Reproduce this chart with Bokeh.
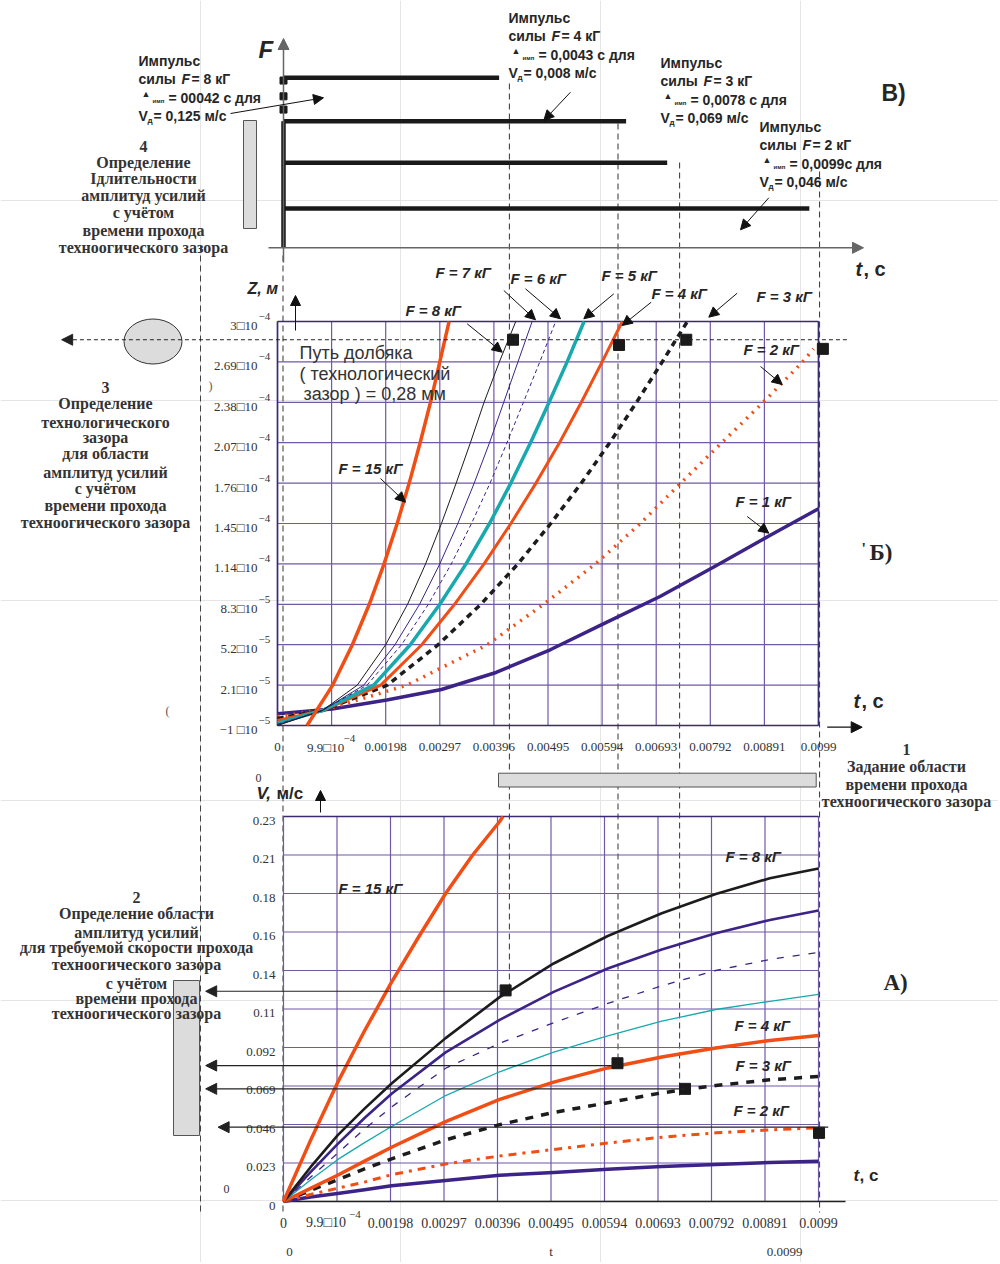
from bokeh.plotting import figure
from bokeh.models import Range1d, Arrow, NormalHead
from bokeh.core.properties import value
from bokeh.embed import file_html
from bokeh.resources import INLINE

# ---------------- data ----------------
t_ticks = [0, 0.00099, 0.00198, 0.00297, 0.00396, 0.00495, 0.00594, 0.00693, 0.00792, 0.00891, 0.0099]
t_tick_labels = ["0", "9.9\u25a110", "0.00198", "0.00297", "0.00396", "0.00495",
                 "0.00594", "0.00693", "0.00792", "0.00891", "0.0099"]

z_ticks = [-1e-5, 2.1e-5, 5.2e-5, 8.3e-5, 1.14e-4, 1.45e-4, 1.76e-4, 2.07e-4, 2.38e-4, 2.69e-4, 3.0e-4]
z_tick_mant = ["\u22121 \u25a110", "2.1\u25a110", "5.2\u25a110", "8.3\u25a110", "1.14\u25a110", "1.45\u25a110",
               "1.76\u25a110", "2.07\u25a110", "2.38\u25a110", "2.69\u25a110", "3\u25a110"]
z_tick_exp = ["\u22125", "\u22125", "\u22125", "\u22125", "\u22124", "\u22124",
              "\u22124", "\u22124", "\u22124", "\u22124", "\u22124"]

v_ticks = [0, 0.023, 0.046, 0.069, 0.092, 0.115, 0.138, 0.161, 0.184, 0.207, 0.23]
v_tick_labels = ["0", "0.023", "0.046", "0.069", "0.092", "0.11", "0.14", "0.16", "0.18", "0.21", "0.23"]

# displacement Z(t), m
z_lv = [2.1e-5, 5.2e-5, 8.3e-5, 1.14e-4, 1.45e-4, 1.76e-4, 2.07e-4, 2.38e-4, 2.69e-4, 3.0e-4]
z15_t = [0.00054, 0.00101, 0.00137, 0.00168, 0.00195, 0.00219, 0.00241, 0.00261, 0.0028, 0.00297, 0.00314]
z15_z = [-1e-5] + z_lv
z8_t = [0, 0.00082, 0.00146, 0.00198, 0.00238, 0.00271, 0.003, 0.00327, 0.00353, 0.00378, 0.00406, 0.00436]
z8_z = [-1.0e-5, 1.5e-6] + z_lv
z7_t = [0, 0.00082, 0.00158, 0.00215, 0.0026, 0.00297, 0.0033, 0.0036, 0.00388, 0.00414, 0.0044, 0.00466]
z7_z = [-9.5e-6, 1.5e-6] + z_lv
z6_t = [0, 0.00082, 0.00164, 0.00227, 0.00276, 0.00318, 0.00355, 0.00389, 0.0042, 0.0045, 0.0048, 0.00509]
z6_z = [-9.0e-6, 1.5e-6] + z_lv
z5_t = [0, 0.00082, 0.00176, 0.00243, 0.00297, 0.00345, 0.00388, 0.00427, 0.00463, 0.00497, 0.0053, 0.00561]
z5_z = [-8.2e-6, 1.5e-6] + z_lv
z4_t = [0, 0.00082, 0.00189, 0.00264, 0.00324, 0.00378, 0.00427, 0.00473, 0.00516, 0.00556, 0.00594, 0.00631]
z4_z = [-6.2e-6, 1.5e-6] + z_lv
z3_t = [0, 0.00082, 0.00201, 0.00294, 0.00372, 0.0044, 0.005, 0.00556, 0.00608, 0.00657, 0.00704, 0.0075]
z3_z = [-4.6e-6, 1.5e-6] + z_lv
z2_t = [0, 0.00082, 0.00164, 0.00237, 0.00384, 0.00487, 0.00582, 0.00664, 0.00738, 0.00813, 0.00889, 0.00961, 0.00981]
z2_z = [-3.1e-6, 1.5e-6, 1.17e-5, 2.1e-5, 5.2e-5, 8.3e-5, 1.14e-4, 1.45e-4, 1.76e-4, 2.07e-4, 2.38e-4, 2.69e-4, 2.79e-4]
z1_t = [0, 0.001, 0.002, 0.003, 0.004, 0.005, 0.006, 0.007, 0.008, 0.009, 0.0099]
z1_z = [-1.0e-6, 2.6e-6, 9.6e-6, 1.76e-5, 3.07e-5, 4.83e-5, 6.87e-5, 8.9e-5, 1.12e-4, 1.356e-4, 1.563e-4]

# velocity V(t), m/s
v_t = [0, 0.0005, 0.001, 0.0015, 0.002, 0.003, 0.004, 0.005, 0.006, 0.007, 0.008, 0.009, 0.0099]
v1 = [0, 0.0027, 0.0048, 0.007, 0.0094, 0.0125, 0.0157, 0.0173, 0.0192, 0.0209, 0.0221, 0.0233, 0.0241]
v2 = [0, 0.0042, 0.0079, 0.0116, 0.016, 0.0224, 0.0272, 0.0311, 0.0349, 0.0384, 0.041, 0.0428, 0.044]
v3 = [0, 0.0066, 0.013, 0.0195, 0.0255, 0.0368, 0.0459, 0.0532, 0.059, 0.0649, 0.0693, 0.0727, 0.0747]
v4 = [0, 0.0078, 0.0157, 0.0241, 0.0324, 0.0477, 0.061, 0.0713, 0.0798, 0.0863, 0.0917, 0.0962, 0.0992]
v5 = [0, 0.0129, 0.025, 0.0352, 0.0448, 0.0633, 0.0775, 0.0893, 0.0989, 0.1077, 0.1147, 0.1196, 0.1237]
v6 = [0, 0.0145, 0.0288, 0.0433, 0.0565, 0.0796, 0.0945, 0.1068, 0.1183, 0.1289, 0.138, 0.1446, 0.1488]
v7 = [0, 0.0175, 0.0343, 0.0499, 0.0644, 0.0891, 0.1085, 0.1252, 0.1392, 0.1505, 0.1603, 0.1682, 0.1738]
v8 = [0, 0.0205, 0.0395, 0.0555, 0.0705, 0.0976, 0.1221, 0.1422, 0.1586, 0.1722, 0.1837, 0.1931, 0.1989]
v15_t = [0, 0.0005, 0.001, 0.0015, 0.002, 0.0025, 0.003, 0.0035, 0.004, 0.00406]
v15 = [0, 0.0365, 0.071, 0.102, 0.131, 0.158, 0.184, 0.207, 0.227, 0.23]

# force impulses (panel B)
imp_force = ["8", "4", "3", "2"]
imp_level = [4.1, 3.05, 2.05, 0.95]
imp_end_t = [0.00399, 0.00634, 0.0071, 0.00973]
imp_tau = ["00042 \u0441 \u0434\u043b\u044f", "0,0043 \u0441 \u0434\u043b\u044f", "0,0078 \u0441 \u0434\u043b\u044f", "0,0099\u0441 \u0434\u043b\u044f"]
imp_vd = ["0,125 \u043c/\u0441", "0,008 \u043c/\u0441", "0,069 \u043c/\u0441", "0,046 \u043c/\u0441"]
f_marks = [4.03, 3.65, 3.33]

# gap passage markers
gap_z = 2.86e-4
zmark_t = [0.00431, 0.00625, 0.00748, 0.00998]
zmark_z = [2.86e-4, 2.82e-4, 2.86e-4, 2.79e-4]
vmark_t = [0.00411, 0.00618, 0.00743, 0.00991]
vmark_v = [0.1261, 0.0826, 0.0673, 0.041]
v_levels = [0.1256, 0.0812, 0.0673, 0.0444]
dash_t = [0.00418, 0.00619, 0.00733, 0.00992]

# ---------------- figure ----------------
ORANGE = "#f04e14"
PURPLE = "#3c2387"
CYAN = "#17a9ad"
BLACK = "#1c1c1c"
GRID = "#7159a8"
TXT = "#262626"
W, H = 998, 1262


def lin(p0, v0, p1, v1, a, b):
    k = (v1 - v0) / (p1 - p0)
    return Range1d(start=v0 + (a - p0) * k, end=v0 + (b - p0) * k)


p = figure(width=W, height=H, x_range=Range1d(0, W), y_range=Range1d(H, 0),
           output_backend="svg", toolbar_location=None, x_axis_location=None, y_axis_location=None,
           min_border=0, outline_line_color=None)
p.extra_x_ranges = {"tz": lin(277, 0, 818, 0.0099, 0, W),
                    "tv": lin(283, 0, 818, 0.0099, 0, W)}
p.extra_y_ranges = {"z": lin(725, -1e-5, 321, 3e-4, H, 0),
                    "v": lin(1201, 0, 816, 0.23, H, 0),
                    "f": lin(247.3, 0, 205.8, 1, H, 0)}


def txt(x, y, s, size=13, font="Liberation Sans", style="bold", align="left", color=TXT,
        xr="default", yr="default", xo=0, yo=0):
    p.text(x=[x], y=[y], text=[s], text_font=value(font), text_font_size=f"{size}px",
           text_font_style=style, text_align=align, text_baseline="middle", text_color=color,
           x_offset=xo, y_offset=yo, x_range_name=xr, y_range_name=yr)


def arr(x0, y0, x1, y1, size=9, width=1.0, dash="solid", color="#111111", xr="default", yr="default"):
    p.add_layout(Arrow(end=NormalHead(size=size, fill_color=color, line_color=color, line_width=1),
                       x_start=x0, y_start=y0, x_end=x1, y_end=y1, line_width=width,
                       line_color=color, line_dash=dash, x_range_name=xr, y_range_name=yr))


def line(xs, ys, xr, yr, color, width, dash="solid", cap="butt"):
    p.line(xs, ys, x_range_name=xr, y_range_name=yr, line_color=color, line_width=width,
           line_dash=dash, line_cap=cap, line_join="round")


# ---------- long dashed guide lines ----------
p.segment(x0=[200], y0=[245], x1=[200], y1=[1215], line_color="#444444", line_dash="6 4", line_width=1)
p.segment(x0=[282.5], y0=[255], x1=[282.5], y1=[1212], line_color="#555555", line_dash="6 4", line_width=1.2)
p.segment(x0=dash_t, y0=[83, 123, 162, 171], x1=dash_t, y1=[993, 1063, 1095, 1212],
          x_range_name="tv", line_color="#333333", line_dash="6 4", line_width=1)

# ---------- panel B (force impulses) ----------
arr(268, 247.3, 863, 247.3, size=11, width=1.5, color="#666666")
arr(283, 262, 283, 38, size=11, width=1.5, color="#666666")
p.segment(x0=[0] * 4, y0=imp_level, x1=imp_end_t, y1=imp_level, x_range_name="tv", y_range_name="f",
          line_color="#1a1a1a", line_width=4.5)
p.segment(x0=[0], y0=[0], x1=[0], y1=[imp_level[1]], x_range_name="tv", y_range_name="f",
          line_color="#1a1a1a", line_width=4.5)
p.scatter(x=[0] * 3, y=f_marks, marker="square", size=7, color="#1a1a1a", x_range_name="tv", y_range_name="f")
p.quad(left=[243], right=[256], top=[120], bottom=[228], fill_color="#dcdcdc", line_color="#555555")
txt(258, 49, "F", size=24, style="bold italic")
txt(855, 268, "t", size=20, style="bold italic")
txt(863, 268, ", \u0441", size=20, style="bold")
txt(881, 92, "\u0412)", size=23, style="bold")

imp_x0 = [138, 508, 660, 759]
imp_y0 = [60, 17, 62, 126]
for i in range(4):
    x0, y0 = imp_x0[i], imp_y0[i]
    txt(x0, y0, "\u0418\u043c\u043f\u0443\u043b\u044c\u0441", size=14)
    txt(x0, y0 + 18, "\u0441\u0438\u043b\u044b", size=14)
    txt(x0 + 43, y0 + 18, "F", size=14, style="bold italic")
    txt(x0 + 53, y0 + 18, "= " + imp_force[i] + " \u043a\u0413", size=14)
    txt(x0 + 3, y0 + 33, "\u25b2", size=9)
    txt(x0 + 14, y0 + 40, "\u0438\u043c\u043f", size=6)
    txt(x0 + 30, y0 + 37, "= " + imp_tau[i], size=14)
    txt(x0, y0 + 55, "V", size=14)
    txt(x0 + 9, y0 + 60, "\u0434", size=8)
    txt(x0 + 15, y0 + 55, "= " + imp_vd[i], size=14)
arr(230, 113, 323, 97.3, size=10, width=1)
arr(570, 91.7, 543.3, 120, size=10, width=1)
arr(768.3, 197.3, 740, 229.3, size=10, width=1)

blk4 = ["4", "\u041e\u043f\u0440\u0435\u0434\u0435\u043b\u0435\u043d\u0438\u0435",
        "I\u0434\u043b\u0438\u0442\u0435\u043b\u044c\u043d\u043e\u0441\u0442\u0438",
        "\u0430\u043c\u043f\u043b\u0438\u0442\u0443\u0434 \u0443\u0441\u0438\u043b\u0438\u0439",
        "\u0441 \u0443\u0447\u0451\u0442\u043e\u043c",
        "\u0432\u0440\u0435\u043c\u0435\u043d\u0438 \u043f\u0440\u043e\u0445\u043e\u0434\u0430",
        "\u0442\u0435\u0445\u043d\u043e\u043e\u0433\u0438\u0447\u0435\u0441\u043a\u043e\u0433\u043e \u0437\u0430\u0437\u043e\u0440\u0430"]
for s, y in zip(blk4, [145.7, 161.7, 178.3, 195, 212.3, 230, 246.7]):
    txt(143, y, s, size=16, font="Liberation Serif", align="center", color="#333333")

# ---------- panel Б (displacement) ----------
n = len(t_ticks)
p.segment(x0=t_ticks, y0=[z_ticks[0]] * n, x1=t_ticks, y1=[z_ticks[-1]] * n, x_range_name="tz",
          y_range_name="z", line_color=GRID, line_width=1.2)
p.segment(x0=[t_ticks[0]] * n, y0=z_ticks, x1=[t_ticks[-1]] * n, y1=z_ticks, x_range_name="tz",
          y_range_name="z", line_color=GRID, line_width=1.2)
p.segment(x0=[t_ticks[0], t_ticks[0], t_ticks[0], t_ticks[-1]],
          y0=[z_ticks[0], z_ticks[-1], z_ticks[0], z_ticks[0]],
          x1=[t_ticks[-1], t_ticks[-1], t_ticks[0], t_ticks[-1]],
          y1=[z_ticks[0], z_ticks[-1], z_ticks[-1], z_ticks[-1]],
          x_range_name="tz", y_range_name="z", line_color="#3a2a70", line_width=1.6)

line(z1_t, z1_z, "tz", "z", PURPLE, 3.5)
line(z2_t, z2_z, "tz", "z", ORANGE, 3.5, dash="2 6")
line(z3_t, z3_z, "tz", "z", BLACK, 3.5, dash="6 5")
line(z4_t, z4_z, "tz", "z", ORANGE, 3.0)
line(z5_t, z5_z, "tz", "z", CYAN, 3.5)
line(z6_t, z6_z, "tz", "z", PURPLE, 1.0, dash="4 3")
line(z7_t, z7_z, "tz", "z", PURPLE, 1.0)
line(z8_t, z8_z, "tz", "z", BLACK, 1.0)
line(z15_t, z15_z, "tz", "z", ORANGE, 3.5)

# gap line and markers
arr(0.01042, gap_z, -0.00395, gap_z, size=11, width=1, dash="4 3", color="#222222", xr="tz", yr="z")
p.scatter(x=zmark_t, y=zmark_z, marker="square", size=11, color="#1a1a1a", x_range_name="tz", y_range_name="z")
p.ellipse(x=[152.5], y=[341], width=58, height=45, width_units="screen", height_units="screen",
          fill_color="#dcdcdc", line_color="#333333")

for tk, mant, ex in zip(z_ticks, z_tick_mant, z_tick_exp):
    txt(257, tk, mant, size=13, font="Liberation Serif", style="normal", align="right", color="#333333",
        yr="z", yo=4)
    txt(258, tk, ex, size=11, font="Liberation Serif", style="normal", align="left", color="#333333",
        yr="z", yo=-5)
for i, (tk, lab) in enumerate(zip(t_ticks, t_tick_labels)):
    xo = -6 if i == 1 else 0
    txt(tk, 746.7, lab, size=13, font="Liberation Serif", style="normal", align="center", color="#333333",
        xr="tz", xo=xo)
txt(t_ticks[1], 746.7, "\u22124", size=11, font="Liberation Serif", style="normal", color="#333333",
    xr="tz", xo=12, yo=-9)

txt(247, 288, "Z, \u043c", size=16, style="bold italic")
arr(295, 330, 295, 295, size=10, width=1)
txt(853, 700, "t", size=20, style="bold italic")
txt(861, 700, ", \u0441", size=20, style="bold")
arr(826.7, 726.7, 861.7, 726.7, size=11, width=1.2)
txt(861, 548, "'", size=16, font="Liberation Serif")
txt(869, 552, "\u0411)", size=23, font="Liberation Serif")

txt(299, 352, "\u041f\u0443\u0442\u044c \u0434\u043e\u043b\u0431\u044f\u043a\u0430", size=18, style="normal",
    color="#333333")
txt(299, 373, "( \u0442\u0435\u0445\u043d\u043e\u043b\u043e\u0433\u0438\u0447\u0435\u0441\u043a\u0438\u0439",
    size=18, style="normal", color="#333333")
txt(303, 393, "\u0437\u0430\u0437\u043e\u0440 ) = 0,28 \u043c\u043c", size=18, style="normal", color="#333333")

zl = [("F = 7 \u043a\u0413", 435, 272), ("F = 6 \u043a\u0413", 510, 278), ("F = 5 \u043a\u0413", 601, 275),
      ("F = 4 \u043a\u0413", 651, 293), ("F = 3 \u043a\u0413", 756, 296), ("F = 8 \u043a\u0413", 405, 310),
      ("F = 15 \u043a\u0413", 338, 468), ("F = 2 \u043a\u0413", 743, 349), ("F = 1 \u043a\u0413", 735, 501)]
for s, x, y in zl:
    txt(x, y, s, size=15, style="bold italic")
for a in [(466.7, 323.3, 501.7, 351.7), (503.3, 290, 535, 319.3), (525, 288.3, 560, 318.3),
          (613.3, 293.3, 583.3, 318.3), (650.7, 301.7, 621.7, 325), (736.7, 292.7, 708.3, 316.7),
          (760, 366, 781.7, 384), (380, 478, 405, 501.7), (746.7, 516, 768.3, 532.7)]:
    arr(*a, size=10, width=1)

blk3 = ["3", "\u041e\u043f\u0440\u0435\u0434\u0435\u043b\u0435\u043d\u0438\u0435",
        "\u0442\u0435\u0445\u043d\u043e\u043b\u043e\u0433\u0438\u0447\u0435\u0441\u043a\u043e\u0433\u043e",
        "\u0437\u0430\u0437\u043e\u0440\u0430", "\u0434\u043b\u044f \u043e\u0431\u043b\u0430\u0441\u0442\u0438",
        "\u0430\u043c\u043f\u043b\u0438\u0442\u0443\u0434 \u0443\u0441\u0438\u043b\u0438\u0439",
        "\u0441 \u0443\u0447\u0451\u0442\u043e\u043c",
        "\u0432\u0440\u0435\u043c\u0435\u043d\u0438 \u043f\u0440\u043e\u0445\u043e\u0434\u0430",
        "\u0442\u0435\u0445\u043d\u043e\u043e\u0433\u0438\u0447\u0435\u0441\u043a\u043e\u0433\u043e \u0437\u0430\u0437\u043e\u0440\u0430"]
for s, y in zip(blk3, [387.3, 403.3, 421.7, 436.7, 453.3, 471.7, 488.3, 505, 521.7]):
    txt(105, y, s, size=16, font="Liberation Serif", align="center", color="#333333")
txt(208, 385, ")", size=12, font="Liberation Serif", style="normal", color="#555555")
txt(165, 710, "(", size=12, font="Liberation Serif", style="normal", color="#555555")

# ---------- zone 1 bar ----------
p.quad(left=[498], right=[815.7], top=[772.7], bottom=[786.5], fill_color="#dcdcdc", line_color="#555555")
blk1 = ["1", "\u0417\u0430\u0434\u0430\u043d\u0438\u0435 \u043e\u0431\u043b\u0430\u0441\u0442\u0438",
        "\u0432\u0440\u0435\u043c\u0435\u043d\u0438 \u043f\u0440\u043e\u0445\u043e\u0434\u0430",
        "\u0442\u0435\u0445\u043d\u043e\u043e\u0433\u0438\u0447\u0435\u0441\u043a\u043e\u0433\u043e \u0437\u0430\u0437\u043e\u0440\u0430"]
for s, y in zip(blk1, [749.3, 766, 784, 800.7]):
    txt(906, y, s, size=16, font="Liberation Serif", align="center", color="#333333")
txt(258, 777, "0", size=12, font="Liberation Serif", style="normal", align="center", color="#333333")

# ---------- panel А (velocity) ----------
p.segment(x0=t_ticks, y0=[v_ticks[0]] * n, x1=t_ticks, y1=[v_ticks[-1]] * n, x_range_name="tv",
          y_range_name="v", line_color=GRID, line_width=1.2)
p.segment(x0=[t_ticks[0]] * n, y0=v_ticks, x1=[t_ticks[-1]] * n, y1=v_ticks, x_range_name="tv",
          y_range_name="v", line_color=GRID, line_width=1.2)
p.segment(x0=[t_ticks[0]], y0=[v_ticks[-1]], x1=[t_ticks[-1]], y1=[v_ticks[-1]], x_range_name="tv",
          y_range_name="v", line_color="#3a2a70", line_width=1.6)
p.segment(x0=[t_ticks[0]], y0=[v_ticks[0]], x1=[0.0104], y1=[v_ticks[0]], x_range_name="tv",
          y_range_name="v", line_color="#222222", line_width=1.4)

line(v_t, v1, "tv", "v", PURPLE, 3.5)
line(v_t, v2, "tv", "v", ORANGE, 3.0, dash="8 6 3 6")
line(v_t, v3, "tv", "v", BLACK, 3.5, dash="8 8")
line(v_t, v4, "tv", "v", ORANGE, 3.5)
line(v_t, v5, "tv", "v", CYAN, 1.3)
line(v_t, v6, "tv", "v", PURPLE, 1.3, dash="7 9")
line(v_t, v7, "tv", "v", PURPLE, 2.6)
line(v_t, v8, "tv", "v", BLACK, 2.6)
line(v15_t, v15, "tv", "v", ORANGE, 3.5)

# horizontal read-off lines to the left
v_left = -0.00144
for i in range(4):
    x_end = v_left if i < 3 else -0.00121
    x_start = vmark_t[i] if i < 3 else 0.01008
    arr(x_start, v_levels[i], x_end, v_levels[i], size=11, width=1.2, color="#222222", xr="tv", yr="v")
p.scatter(x=vmark_t, y=vmark_v, marker="square", size=11, color="#1a1a1a", x_range_name="tv", y_range_name="v")
p.quad(left=[173], right=[199], top=[980], bottom=[1135], fill_color="#dcdcdc", line_color="#555555")

for tk, lab in zip(v_ticks, v_tick_labels):
    txt(275, tk, lab, size=13, font="Liberation Serif", style="normal", align="right", color="#333333",
        yr="v", yo=4)
for i, (tk, lab) in enumerate(zip(t_ticks, t_tick_labels)):
    xo = -11 if i == 1 else 0
    txt(tk, 1222, lab, size=14, font="Liberation Serif", style="normal", align="center", color="#333333",
        xr="tv", xo=xo)
txt(t_ticks[1], 1222, "\u22124", size=11, font="Liberation Serif", style="normal", color="#333333",
    xr="tv", xo=12, yo=-8)
txt(t_ticks[0], 1251, "0", size=13, font="Liberation Serif", style="normal", align="center", color="#333333",
    xr="tv", xo=6)
txt(0.00495, 1251, "t", size=13, font="Liberation Serif", style="normal", align="center", color="#333333",
    xr="tv")
txt(t_ticks[-1], 1251, "0.0099", size=13, font="Liberation Serif", style="normal", align="center",
    color="#333333", xr="tv", xo=-34)
txt(226, 1188, "0", size=12, font="Liberation Serif", style="normal", align="center", color="#333333")

txt(256, 793, "V,", size=17, style="bold italic")
txt(276, 793, "\u043c/\u0441", size=17, style="bold")
arr(320, 812, 320, 790, size=10, width=1)
txt(853, 1175, "t", size=17, style="bold italic")
txt(859, 1175, ", \u0441", size=17, style="bold")
txt(883, 982, "\u0410)", size=23, font="Liberation Serif")

vl = [("F = 15 \u043a\u0413", 338, 888), ("F = 8 \u043a\u0413", 725, 856), ("F = 4 \u043a\u0413", 734, 1025),
      ("F = 3 \u043a\u0413", 735, 1065), ("F = 2 \u043a\u0413", 733, 1110)]
for s, x, y in vl:
    txt(x, y, s, size=15, style="bold italic")

blk2 = ["2", "\u041e\u043f\u0440\u0435\u0434\u0435\u043b\u0435\u043d\u0438\u0435 \u043e\u0431\u043b\u0430\u0441\u0442\u0438",
        "\u0430\u043c\u043f\u043b\u0438\u0442\u0443\u0434 \u0443\u0441\u0438\u043b\u0438\u0439",
        "\u0434\u043b\u044f \u0442\u0440\u0435\u0431\u0443\u0435\u043c\u043e\u0439 \u0441\u043a\u043e\u0440\u043e\u0441\u0442\u0438 \u043f\u0440\u043e\u0445\u043e\u0434\u0430",
        "\u0442\u0435\u0445\u043d\u043e\u043e\u0433\u0438\u0447\u0435\u0441\u043a\u043e\u0433\u043e \u0437\u0430\u0437\u043e\u0440\u0430",
        "\u0441 \u0443\u0447\u0451\u0442\u043e\u043c",
        "\u0432\u0440\u0435\u043c\u0435\u043d\u0438 \u043f\u0440\u043e\u0445\u043e\u0434\u0430",
        "\u0442\u0435\u0445\u043d\u043e\u043e\u0433\u0438\u0447\u0435\u0441\u043a\u043e\u0433\u043e \u0437\u0430\u0437\u043e\u0440\u0430"]
for s, y in zip(blk2, [896.7, 913, 931.7, 946.7, 964.3, 982.7, 998.3, 1013.3]):
    txt(136, y, s, size=16, font="Liberation Serif", align="center", color="#333333")

open("out.html", "w").write(file_html(p, INLINE))
